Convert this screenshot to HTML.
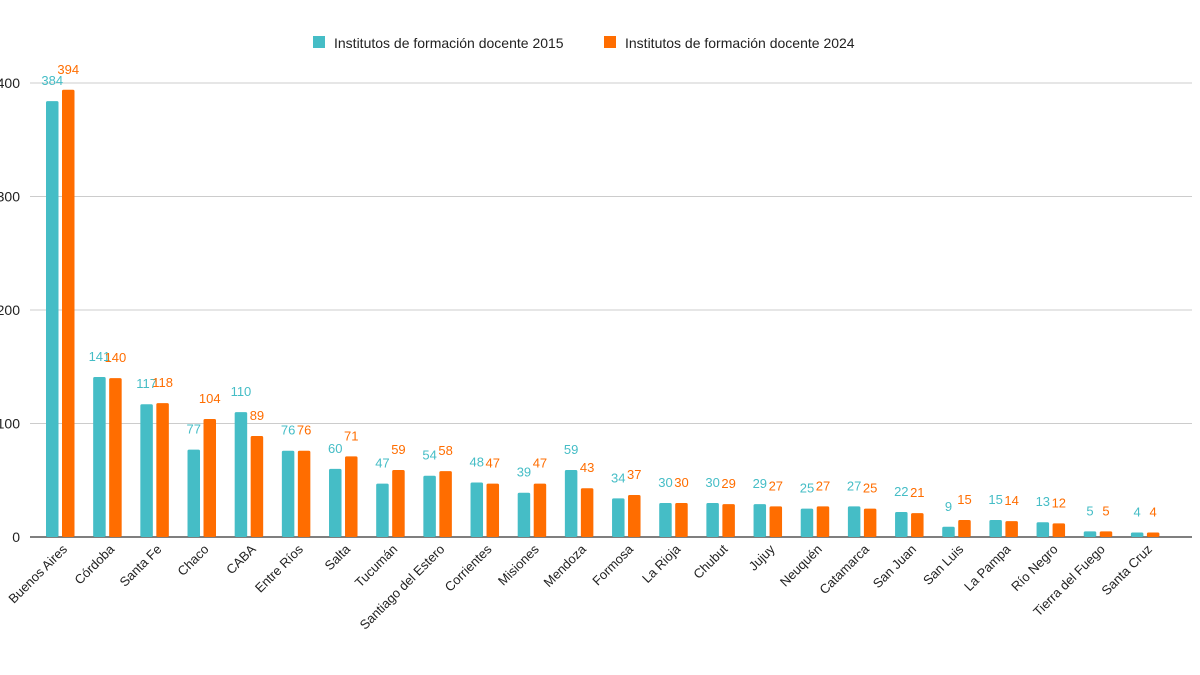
<!DOCTYPE html>
<html><head><meta charset="utf-8"><style>
body{margin:0;background:#fff;font-family:"Liberation Sans",sans-serif;}
svg{display:block}
</style></head><body>
<svg id="chart" width="1200" height="675" xmlns="http://www.w3.org/2000/svg" font-family="Liberation Sans, sans-serif">
<g>
<rect x="313" y="36" width="12" height="12" fill="#45BDC6"/>
<text x="334" y="48" font-size="14" fill="#222">Institutos de formación docente 2015</text>
<rect x="604" y="36" width="12" height="12" fill="#FF6D00"/>
<text x="625" y="48" font-size="14" fill="#222">Institutos de formación docente 2024</text>
</g>
<g id="grid"></g><g id="bars"></g><g id="labels"></g>
</svg>
<script>
const categories=["Buenos Aires","Córdoba","Santa Fe","Chaco","CABA","Entre Ríos","Salta","Tucumán","Santiago del Estero","Corrientes","Misiones","Mendoza","Formosa","La Rioja","Chubut","Jujuy","Neuquén","Catamarca","San Juan","San Luis","La Pampa","Río Negro","Tierra del Fuego","Santa Cruz"];
const values2015=[384,141,117,77,110,76,60,47,54,48,39,59,34,30,30,29,25,27,22,9,15,13,5,4];
const values2024=[394,140,118,104,89,76,71,59,58,47,47,43,37,30,29,27,27,25,21,15,14,12,5,4];
const yTicks=[0,100,200,300,400];
const NS="http://www.w3.org/2000/svg";
const y0=537,pxPer=113.5/100;
const y=v=>y0-v*pxPer;
const x=i=>60+i*47.17;
function mk(tag,attrs,parent){const e=document.createElementNS(NS,tag);for(const k in attrs)e.setAttribute(k,attrs[k]);parent.appendChild(e);return e;}
const grid=document.getElementById('grid'),bars=document.getElementById('bars'),labels=document.getElementById('labels');
yTicks.forEach(t=>{
 const l=mk('line',{x1:30,x2:1192,y1:y(t),y2:y(t),stroke:t===0?'#555':'#ccc','stroke-width':t===0?1.5:1},grid);
 
 
 const tx=mk('text',{x:20,y:y(t)+5,'text-anchor':'end','font-size':14,fill:'#222'},grid);
 tx.textContent=t;
 
 
});
categories.forEach((c,i)=>{
 const cx=x(i);
 [[values2015[i],'#45BDC6',cx-14,'2015'],[values2024[i],'#FF6D00',cx+2,'2024']].forEach(([v,col,bx,s])=>{
  const r=mk('rect',{x:bx,y:y(v),width:12.5,height:v*pxPer,fill:col,rx:1.5},bars);
  
  
  const t=mk('text',{x:bx+6.25,y:y(v)-16,'text-anchor':'middle','font-size':13,fill:col},labels);
  t.textContent=v;
  
  
 });
 const lx=cx+8,ly=550;
 const t=mk('text',{x:lx,y:ly,'text-anchor':'end','font-size':13,fill:'#222',transform:`rotate(-45 ${lx} ${ly})`},labels);
 t.textContent=c;
 
 
});
</script>
</body></html>
